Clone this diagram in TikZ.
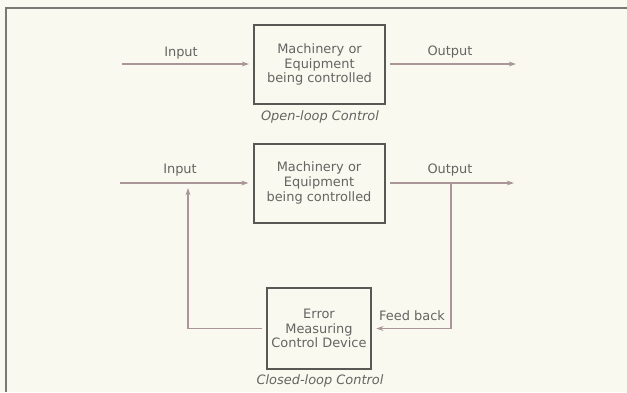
\documentclass[tikz,border=0pt]{standalone}
\usepackage{fontspec}
\setmainfont{DejaVu Sans}
\usepackage{xcolor}
\usetikzlibrary{arrows.meta}
\definecolor{paper}{RGB}{250, 249, 240}
\definecolor{boxgray}{RGB}{88, 88, 84}
\definecolor{linegray}{RGB}{170, 150, 152}
\definecolor{textgray}{RGB}{100, 100, 97}
\definecolor{framegray}{RGB}{120, 120, 116}

\begin{document}
\begin{tikzpicture}[x=0.25mm, y=-0.25mm,
  every node/.style={text=textgray, font=\fontsize{9.2}{10.5}\selectfont},
  plantbox/.style={draw=boxgray, line width=0.5mm, align=center,
    minimum width=32.75mm, minimum height=19.75mm, outer sep=1.25mm},
  errbox/.style={plantbox, minimum width=25.5mm, minimum height=20.25mm},
  flow/.style={draw=linegray, line width=0.3mm, -{Stealth[length=1.8mm, width=1.2mm]}},
  caption/.style={font=\fontsize{9.2}{10.5}\selectfont\itshape}]
\fill[paper] (0,0) rectangle (627,392);
\useasboundingbox (0,0) rectangle (627,392);
\draw[framegray, line width=0.4mm] (6,392) -- (6,8) -- (627,8);

% open loop
\node[plantbox] (plant1) at (319.5,64.5) {Machinery or\\Equipment\\being controlled};
\coordinate (in1) at (122,64);
\coordinate (out1) at (516,64);
\draw[flow] (in1) -- (plant1.west |- in1);
\draw[flow] (plant1.east |- out1) -- (out1);
\node (inlabel1) at (181,53) {Input};
\node (outlabel1) at (450,52) {Output};
\node[caption] (opencap) at (320,117) {Open-loop Control};

% closed loop
\node[plantbox] (plant2) at (319,183) {Machinery or\\Equipment\\being controlled};
\node[errbox] (errdev) at (319,328.5) {Error\\Measuring\\Control Device};
\coordinate (in2) at (120,183);
\coordinate (out2) at (514,183);
\coordinate (fb) at (451,183);
\coordinate (jn) at (188,183);
\draw[flow] (in2) -- (plant2.west |- in2);
\draw[flow] (plant2.east |- out2) -- (out2);
\draw[flow] (fb) |- (errdev.east);
\draw[flow, shorten >=1.25mm] (errdev.west) -| (jn);
\node (inlabel2) at (180,170) {Input};
\node (outlabel2) at (450,170) {Output};
\node (fblabel) at (412,316) {Feed back};
\node[caption] (closedcap) at (320,381) {Closed-loop Control};
\end{tikzpicture}
\end{document}
